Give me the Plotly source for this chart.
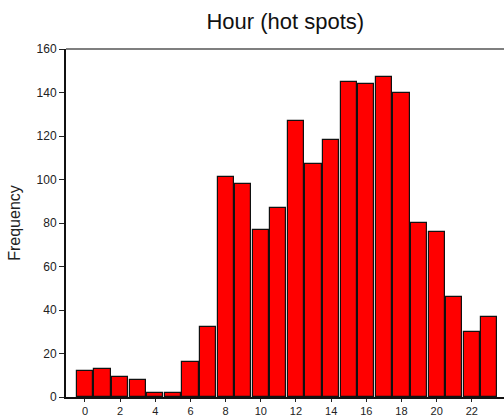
import plotly.graph_objects as go

# hour of day and number of hot spots per hour
hours = list(range(24))
counts = [12, 13, 9, 8, 2, 2, 16, 32, 101, 98, 77, 87,
          127, 107, 118, 145, 144, 147, 140, 80, 76, 46, 30, 37]

x_ticks = list(range(0, 24, 2))
y_ticks = list(range(0, 161, 20))

fig = go.Figure()

fig.add_trace(go.Bar(
    x=hours,
    y=counts,
    width=0.92,
    marker=dict(color='#ff0000', line=dict(color='#111111', width=1.2)),
    showlegend=False
))

fig.update_layout(
    width=504, height=416,
    plot_bgcolor='white', paper_bgcolor='white',
    font=dict(family='Liberation Sans, Arial', color='#222222'),
    title=dict(text='Hour (hot spots)', x=0.566, xanchor='center', y=0.95, yanchor='middle',
               font=dict(size=22, color='#111111')),
    margin=dict(l=66, r=0, t=49, b=19),
    bargap=0,
    xaxis=dict(
        range=[-1.08, 23.83],
        tickvals=x_ticks,
        ticks='outside', ticklen=3, tickcolor='#222222',
        showline=True, linecolor='#111111', linewidth=2,
        showgrid=False, zeroline=False, automargin=False,
        tickfont=dict(size=11)
    ),
    yaxis=dict(
        range=[0, 160],
        tickvals=y_ticks,
        ticks='outside', ticklen=5, tickcolor='#222222',
        showline=True, linecolor='#111111', linewidth=2,
        showgrid=False, zeroline=False, automargin=False,
        tickfont=dict(size=12),
        title=dict(text='Frequency', font=dict(size=16), standoff=12)
    )
)

# gray frame line along the top of the plot area
fig.add_shape(type='line', xref='paper', yref='paper', x0=0, x1=1, y0=1, y1=1,
              line=dict(color='#555555', width=1.5))

# drop the default page margin so the figure sits at the window's corner
fig.write_html("out.html", config={'displayModeBar': False},
               post_script="document.body.style.margin='0';document.body.style.overflow='hidden';")
